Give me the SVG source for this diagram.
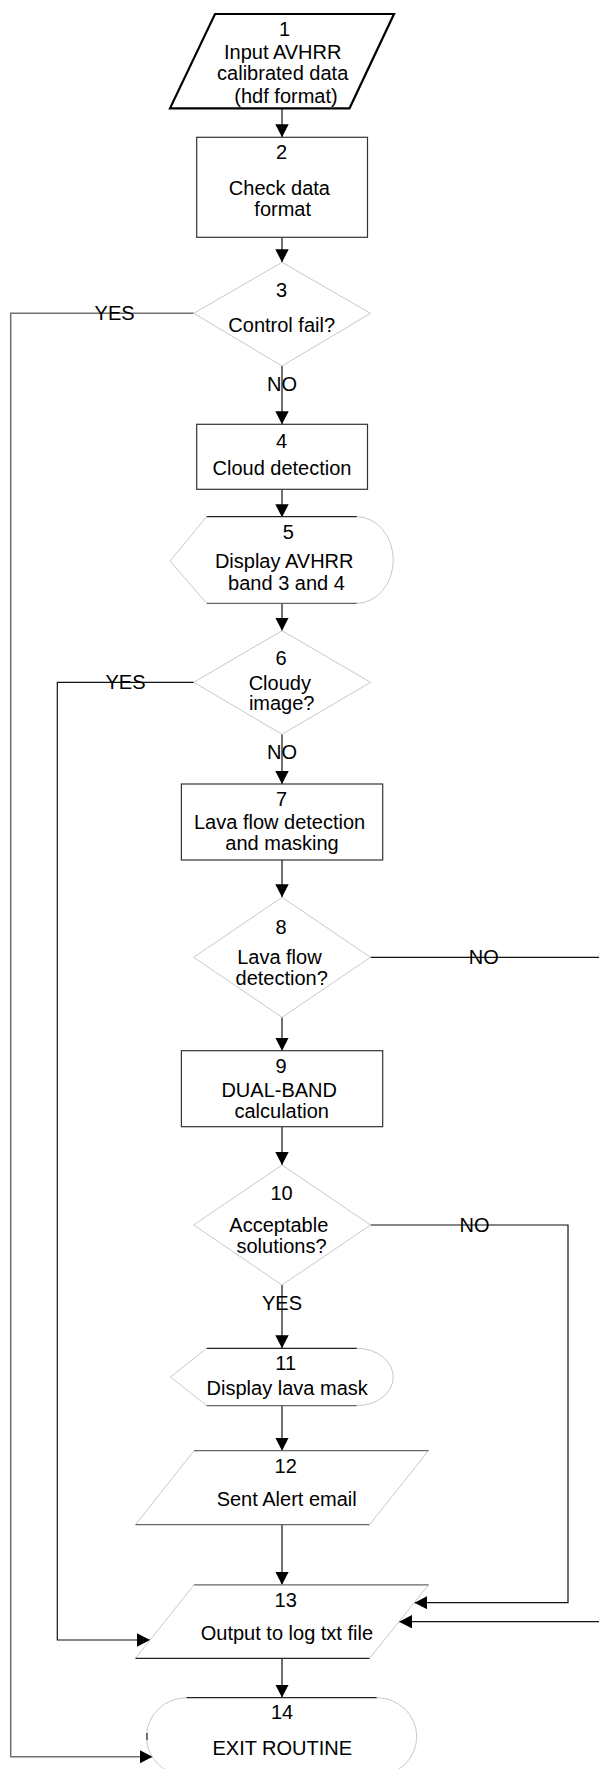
<svg xmlns="http://www.w3.org/2000/svg" width="599" height="1769" viewBox="0 0 599 1769">
<style>
text{font-family:"Liberation Sans",Arial,sans-serif;font-size:20px;fill:#000;text-anchor:middle}
.box{fill:#fff;stroke:#333;stroke-width:1.2}
.dia{fill:#fff;stroke:#c8c8c8;stroke-width:1}
.lite{fill:none;stroke:#c8c8c8;stroke-width:1}
.dark{fill:none;stroke:#222;stroke-width:1.2}
.mid{fill:none;stroke:#666;stroke-width:1.2}
.c{fill:none;stroke:#111;stroke-width:1.2}
.g{fill:none;stroke:#707070;stroke-width:1.5}
</style>
<defs>
<marker id="ah" markerWidth="14" markerHeight="14" refX="13" refY="6.7" orient="auto" markerUnits="userSpaceOnUse">
<path d="M0,0 L13,6.7 L0,13.4 z" fill="#000"/>
</marker>
</defs>
<rect width="599" height="1769" fill="#fff"/>
<g id="connectors">
<path class="c" d="M282,108.3 V137.3" marker-end="url(#ah)"/>
<path class="c" d="M282,237.3 V262.3" marker-end="url(#ah)"/>
<path class="g" d="M193.7,313.3 H10.7 V1756.7 H152.5" marker-end="url(#ah)"/>
<path class="c" d="M282,366 V424.3" marker-end="url(#ah)"/>
<path class="c" d="M282,489.3 V517.3" marker-end="url(#ah)"/>
<path class="c" d="M282,603.5 V630.7" marker-end="url(#ah)"/>
<path class="c" d="M193.7,682.3 H57.3 V1640 H150" marker-end="url(#ah)"/>
<path class="c" d="M282,734.3 V784" marker-end="url(#ah)"/>
<path class="c" d="M282,860 V897.3" marker-end="url(#ah)"/>
<path class="c" d="M370.5,957.3 H606 V1621.7 H399" marker-end="url(#ah)"/>
<path class="c" d="M282,1017.3 V1050.7" marker-end="url(#ah)"/>
<path class="c" d="M282,1126.7 V1165" marker-end="url(#ah)"/>
<path class="c" d="M370.5,1225 H568 V1602.7 H414.4" marker-end="url(#ah)"/>
<path class="c" d="M282,1285 V1348.3" marker-end="url(#ah)"/>
<path class="c" d="M282,1405.7 V1450.7" marker-end="url(#ah)"/>
<path class="c" d="M282,1524.7 V1584.8" marker-end="url(#ah)"/>
<path class="c" d="M282,1658.3 V1697.6" marker-end="url(#ah)"/>
<text x="114.6" y="320.3">YES</text>
<text x="282" y="391">NO</text>
<text x="125.5" y="689.3">YES</text>
<text x="282" y="758.7">NO</text>
<text x="483.8" y="964.3">NO</text>
<text x="474.6" y="1232">NO</text>
<text x="282" y="1310.3">YES</text>
</g>
<g id="n1">
<polygon points="215,14 394,14 349.5,108.3 170,108.3" fill="#fff" stroke="#000" stroke-width="2.2"/>
<text x="284.6" y="36.3">1</text>
<text x="282.7" y="58.7">Input AVHRR</text>
<text x="282.7" y="79.7">calibrated data</text>
<text x="286" y="102.7">(hdf format)</text>
</g>
<g id="n2">
<rect class="box" x="196.7" y="137.3" width="170.8" height="100"/>
<text x="281.5" y="159.3">2</text>
<text x="279.4" y="195.3">Check data</text>
<text x="282.7" y="216">format</text>
</g>
<g id="n3">
<polygon class="dia" points="282,262.3 370.5,313.3 282,366 193.7,313.3"/>
<text x="281.5" y="297">3</text>
<text x="281.7" y="332">Control fail?</text>
</g>
<g id="n4">
<rect class="box" x="196.7" y="424.3" width="170.8" height="65"/>
<text x="281.5" y="447.7">4</text>
<text x="282" y="474.7">Cloud detection</text>
</g>
<g id="n5">
<path d="M206.7,516.7 H356.7 A36.6,43.3 0 0 1 356.7,603.3 H206.7 L170,561 Z" fill="#fff" stroke="none"/>
<path class="lite" d="M206.7,516.7 L170,561 L206.7,603.3 M356.7,516.7 A36.6,43.3 0 0 1 356.7,603.3"/>
<path class="dark" d="M206.7,516.7 H356.7"/>
<path class="mid" d="M206.7,603.3 H356.7"/>
<text x="288.4" y="539.3">5</text>
<text x="284.2" y="568">Display AVHRR</text>
<text x="286.5" y="589.7">band 3 and 4</text>
</g>
<g id="n6">
<polygon class="dia" points="282,630.7 370.5,682.3 282,734.3 193.7,682.3"/>
<text x="281" y="664.7">6</text>
<text x="279.8" y="690.3">Cloudy</text>
<text x="281.7" y="710.3">image?</text>
</g>
<g id="n7">
<rect class="box" x="181.4" y="784" width="201.3" height="76"/>
<text x="281.5" y="806">7</text>
<text x="279.6" y="828.7">Lava flow detection</text>
<text x="282" y="850.3">and masking</text>
</g>
<g id="n8">
<polygon class="dia" points="282,897.3 370.5,957.3 282,1017.3 193.7,957.3"/>
<text x="281" y="933.7">8</text>
<text x="279.4" y="963.7">Lava flow</text>
<text x="281.7" y="985.3">detection?</text>
</g>
<g id="n9">
<rect class="box" x="181.4" y="1050.7" width="201.3" height="76"/>
<text x="281" y="1072.7">9</text>
<text x="279.2" y="1097">DUAL-BAND</text>
<text x="281.7" y="1117.7">calculation</text>
</g>
<g id="n10">
<polygon class="dia" points="282,1165 370.5,1225 282,1285 193.7,1225"/>
<text x="281.5" y="1200.3">10</text>
<text x="278.8" y="1232">Acceptable</text>
<text x="281.5" y="1253">solutions?</text>
</g>
<g id="n11">
<path d="M206.7,1348.3 H356.7 A36.6,28.7 0 0 1 356.7,1405.7 H206.7 L170.5,1377 Z" fill="#fff" stroke="none"/>
<path class="lite" d="M206.7,1348.3 L170.5,1377 L206.7,1405.7 M356.7,1348.3 A36.6,28.7 0 0 1 356.7,1405.7"/>
<path class="dark" d="M206.7,1348.3 H356.7"/>
<path class="mid" d="M206.7,1405.7 H356.7"/>
<text x="285.7" y="1369.7">11</text>
<text x="287.2" y="1394.7">Display lava mask</text>
</g>
<g id="n12">
<polygon points="194,1450.7 428.5,1450.7 369.5,1524.7 135.5,1524.7" fill="#fff" stroke="none"/>
<path class="lite" d="M194,1450.7 L135.5,1524.7 M428.5,1450.7 L369.5,1524.7"/>
<path class="mid" d="M194,1450.7 H428.5 M135.5,1524.7 H369.5"/>
<text x="285.7" y="1473">12</text>
<text x="286.7" y="1506">Sent Alert email</text>
</g>
<g id="n13">
<polygon points="194,1584.8 428.5,1584.8 369.5,1658.3 135.5,1658.3" fill="#fff" stroke="none"/>
<path class="lite" d="M194,1584.8 L135.5,1658.3 M428.5,1584.8 L369.5,1658.3"/>
<path class="mid" d="M194,1584.8 H428.5"/>
<path class="dark" d="M135.5,1658.3 H369.5"/>
<text x="285.7" y="1607">13</text>
<text x="286.9" y="1639.7">Output to log txt file</text>
</g>
<g id="n14">
<path d="M186.5,1697.7 H376.7 A40,39 0 0 1 376.7,1775.7 H186.5 A40,39 0 0 1 186.5,1697.7 Z" fill="#fff" stroke="none"/>
<path class="lite" d="M376.7,1697.7 A40,39 0 0 1 376.7,1775.7 M186.5,1775.7 A40,39 0 0 1 186.5,1697.7"/>
<path class="dark" d="M186.5,1697.7 H376.7"/>
<path d="M147,1733 V1740" stroke="#222" stroke-width="1.2"/>
<text x="282" y="1718.7">14</text>
<text x="282.3" y="1755.3">EXIT ROUTINE</text>
</g>
</svg>
